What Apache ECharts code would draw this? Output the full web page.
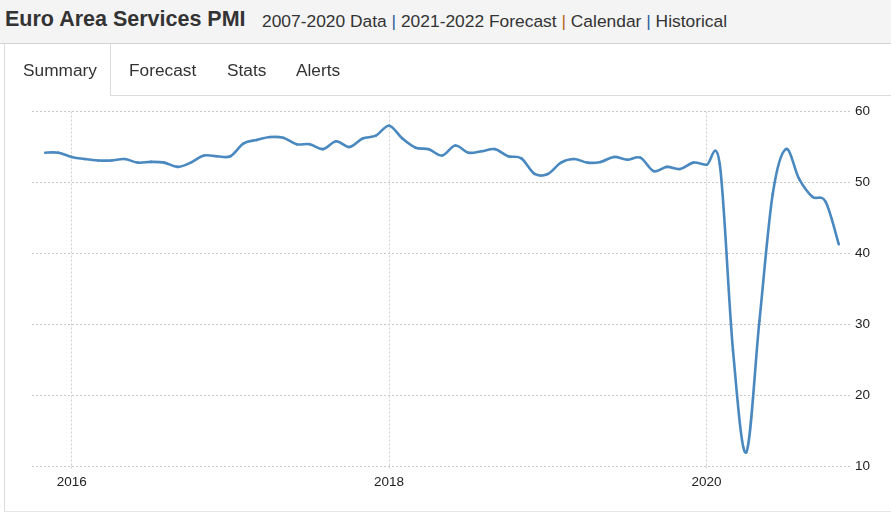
<!DOCTYPE html>
<html>
<head>
<meta charset="utf-8">
<script src="https://cdn.jsdelivr.net/npm/echarts@6/dist/echarts.min.js"></script>
<style>
  html, body { margin: 0; padding: 0; width: 891px; height: 516px; background: #fff; overflow: hidden;
    font-family: "Liberation Sans", Arial, sans-serif; color: #333; }
  #chart { position: absolute; left: 0; top: 0; width: 891px; height: 516px; }
  .hdr { position: absolute; left: 0; top: 0; width: 891px; height: 43px; background: #f4f4f4; border-bottom: 1px solid #d4d4d4; }
  .title { position: absolute; left: 5px; top: 7px; line-height: 24px; font-size: 21.5px; font-weight: bold; color: #333; white-space: nowrap; }
  .sub { position: absolute; left: 262px; top: 10.5px; line-height: 20px; font-size: 17.4px; color: #333; white-space: nowrap; }
  .sep1 { color: #2d5f9a; } .sep2 { color: #b5651d; }
  .tab { position: absolute; top: 59.5px; line-height: 20px; font-size: 17.3px; color: #333; white-space: nowrap; }
  .line { position: absolute; background: #dcdcdc; }
</style>
</head>
<body>
<div id="chart"></div>
<div class="hdr">
  <div class="title">Euro Area Services PMI</div>
  <div class="sub">2007-2020 Data <span class="sep1">|</span> 2021-2022 Forecast <span class="sep2">|</span> Calendar <span class="sep1">|</span> Historical</div>
</div>
<div class="line" style="left:4px;top:44px;width:1px;height:468px;"></div>
<div class="line" style="left:110px;top:44px;width:1px;height:51px;"></div>
<div class="line" style="left:110px;top:95px;width:781px;height:1px;"></div>
<div class="line" style="left:4px;top:511px;width:887px;height:1px;background:#e6e6e6;"></div>
<div class="tab" style="left:23px;">Summary</div>
<div class="tab" style="left:129px;">Forecast</div>
<div class="tab" style="left:227px;">Stats</div>
<div class="tab" style="left:296px;">Alerts</div>
<script>
// Axis categories (monthly), padded by one month on each side of the data
const months = [
  '2015-10','2015-11','2015-12',
  '2016-01','2016-02','2016-03','2016-04','2016-05','2016-06','2016-07','2016-08','2016-09','2016-10','2016-11','2016-12',
  '2017-01','2017-02','2017-03','2017-04','2017-05','2017-06','2017-07','2017-08','2017-09','2017-10','2017-11','2017-12',
  '2018-01','2018-02','2018-03','2018-04','2018-05','2018-06','2018-07','2018-08','2018-09','2018-10','2018-11','2018-12',
  '2019-01','2019-02','2019-03','2019-04','2019-05','2019-06','2019-07','2019-08','2019-09','2019-10','2019-11','2019-12',
  '2020-01','2020-02','2020-03','2020-04','2020-05','2020-06','2020-07','2020-08','2020-09','2020-10','2020-11','2020-12'
];
// Euro Area Services PMI, Nov 2015 .. Nov 2020
const pmiStart = '2015-11';
const pmi = [
  54.2, 54.2,
  53.6, 53.3, 53.1, 53.1, 53.3, 52.8, 52.9, 52.8, 52.2, 52.8, 53.8, 53.7,
  53.7, 55.5, 56.0, 56.4, 56.3, 55.4, 55.4, 54.7, 55.8, 55.0, 56.2, 56.6,
  58.0, 56.2, 54.9, 54.7, 53.8, 55.2, 54.2, 54.4, 54.7, 53.7, 53.4, 51.2,
  51.2, 52.8, 53.3, 52.8, 52.9, 53.6, 53.2, 53.5, 51.6, 52.2, 51.9, 52.8,
  52.5, 52.6, 26.4, 12.0, 30.5, 48.3, 54.7, 50.5, 48.0, 47.3, 41.3
];
const xTickMonths = ['2016-01', '2018-01', '2020-01'];
const yTicks = [10, 20, 30, 40, 50, 60];

const offset = months.indexOf(pmiStart);
const seriesData = pmi.map((v, i) => [i + offset, v]);
const isTick = (idx, val) => xTickMonths.indexOf(val) >= 0;

const chart = echarts.init(document.getElementById('chart'), null, { renderer: 'canvas' });
const lineColor = '#4a89c0';
chart.setOption({
  animation: false,
  grid: { left: 32, right: 39, top: 111.5, bottom: 49.5, containLabel: false },
  xAxis: {
    type: 'category',
    data: months,
    boundaryGap: false,
    axisLine: { show: false },
    axisTick: { show: true, interval: isTick, length: 4, lineStyle: { color: '#d0d0d0', type: [2, 2] } },
    axisLabel: {
      interval: isTick, margin: 9, color: '#222', fontSize: 13.5,
      fontFamily: '"Liberation Sans", Arial, sans-serif',
      formatter: (v) => v.slice(0, 4)
    },
    splitLine: { show: true, interval: isTick, lineStyle: { color: '#d0d0d0', type: [2, 2], width: 1 } }
  },
  yAxis: {
    type: 'value',
    position: 'right',
    min: yTicks[0], max: yTicks[yTicks.length - 1], interval: 10,
    axisLine: { show: false },
    axisTick: { show: false },
    axisLabel: { margin: 3, color: '#222', fontSize: 13.5, fontFamily: '"Liberation Sans", Arial, sans-serif' },
    splitLine: { show: true, lineStyle: { color: '#c8c8c8', type: [2, 2], width: 1 } }
  },
  series: [{
    type: 'custom',
    coordinateSystem: 'cartesian2d',
    encode: { x: 0, y: 1 },
    data: seriesData,
    renderItem: function (params, api) {
      const i = params.dataIndex;
      const n = pmi.length;
      if (i === 0) return { type: 'group', children: [] };
      const p = (k) => { k = Math.max(0, Math.min(n - 1, k)); return api.coord([k + offset, pmi[k]]); };
      const p0 = p(i - 2), p1 = p(i - 1), p2 = p(i), p3 = p(i + 1);
      return {
        type: 'bezierCurve',
        shape: {
          x1: p1[0], y1: p1[1],
          cpx1: p1[0] + (p2[0] - p0[0]) / 6, cpy1: p1[1] + (p2[1] - p0[1]) / 6,
          cpx2: p2[0] - (p3[0] - p1[0]) / 6, cpy2: p2[1] - (p3[1] - p1[1]) / 6,
          x2: p2[0], y2: p2[1]
        },
        style: { stroke: lineColor, lineWidth: 2.6, fill: null, lineCap: 'round', lineJoin: 'round' }
      };
    }
  }]
});
</script>
</body>
</html>
